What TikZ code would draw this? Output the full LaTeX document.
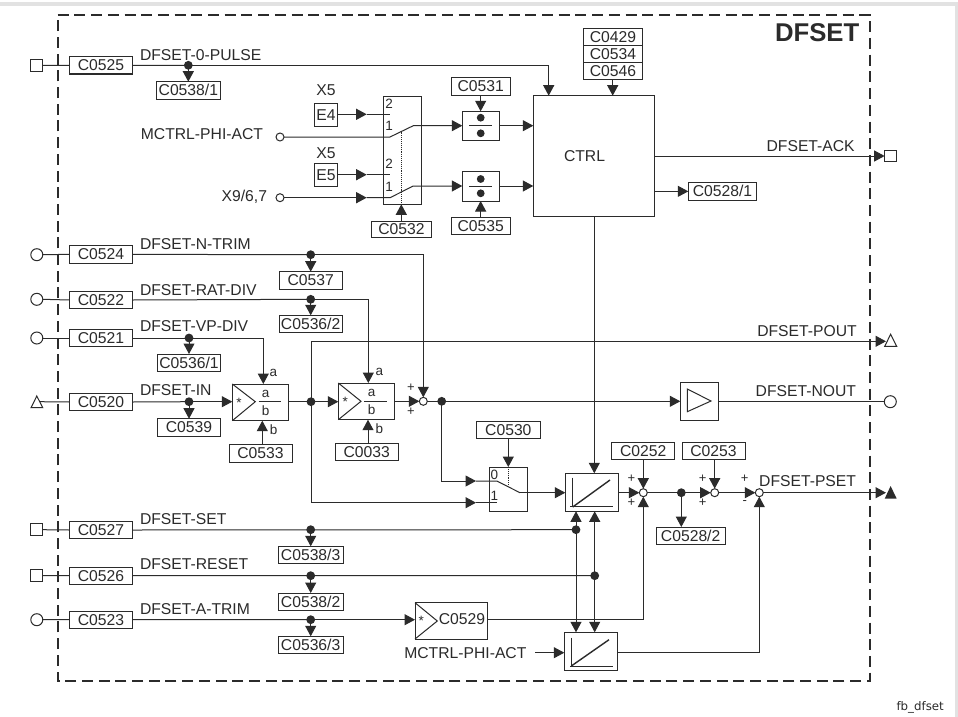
\documentclass[tikz,border=0pt]{standalone}
\usepackage{fontspec}
\setmainfont{Liberation Sans}
\newfontfamily\fbfont{DejaVu Sans}
\usetikzlibrary{arrows.meta}
\definecolor{ink}{HTML}{2B2B2B}
\definecolor{band}{HTML}{E2E2E2}
\tikzset{
  wire/.style={draw=ink,line width=1pt},
  arw/.style={wire,-{Triangle[length=10.5pt,width=11pt]}},
  cbox/.style={draw=ink,line width=1pt,fill=white,inner sep=0pt,outer sep=0pt,font=\fontsize{15.7}{16}\selectfont,text=ink},
  blockbox/.style={draw=ink,line width=1pt,fill=white,inner sep=0pt,outer sep=0pt},
  lbl/.style={inner sep=0pt,outer sep=0pt,font=\fontsize{15.7}{16}\selectfont,text=ink},
  small/.style={inner sep=0pt,outer sep=0pt,font=\fontsize{13.5}{14}\selectfont,text=ink},
  pm/.style={inner sep=0pt,outer sep=0pt,font=\fontsize{13}{13}\selectfont,text=ink},
  jdot/.style={circle,fill=ink,draw=none,minimum size=8.8pt,inner sep=0pt,outer sep=0pt},
  sumn/.style={circle,fill=white,draw=ink,line width=1pt,minimum size=8pt,inner sep=0pt,outer sep=0pt},
  tcirc/.style={circle,fill=white,draw=ink,line width=1pt,minimum size=12pt,inner sep=0pt,outer sep=0pt},
  tsq/.style={rectangle,fill=white,draw=ink,line width=1pt,minimum size=11.7pt,inner sep=0pt,outer sep=0pt},
  fbframe/.style={draw=ink,line width=1.7pt,dash pattern=on 11pt off 5.7pt},
  dots/.style={draw=ink,line width=.9pt,densely dotted},
}
\newcommand\cb[6]{\node[cbox,minimum width=#4pt-#2pt,minimum height=#5pt-#3pt] (#1) at ({(#2+#4)/2},{(#3+#5)/2}) {#6};}
\newcommand\bb[5]{\node[blockbox,minimum width=#4pt-#2pt,minimum height=#5pt-#3pt] (#1) at ({(#2+#4)/2},{(#3+#5)/2}) {};}
\begin{document}
\begin{tikzpicture}[x=1pt,y=-1pt]
\useasboundingbox (0,0) rectangle (958,717);
\fill[white] (0,0) rectangle (958,717);
\fill[band] (0,2) rectangle (958,6);
\fill[band] (954.7,2) rectangle (958,717);
% frame
\draw[fbframe] (57.7,15) -- (869.7,15) -- (869.7,680.7) -- (57.7,680.7) -- cycle;
\node[inner sep=0pt,font=\bfseries\fontsize{25.7}{26}\selectfont,text=ink,anchor=base east] (title) at (859.5,41.5) {DFSET};

% input terminals
\node[tsq] (t0) at (36.8,65.3) {};
\node[tcirc] (t4) at (36.8,254.7) {};
\node[tcirc] (t2) at (36.8,299.3) {};
\node[tcirc] (t1) at (36.8,338) {};
\draw[draw=ink,line width=1pt,fill=white] (31,407.7) -- (36.8,396) -- (42.7,407.7) -- cycle;
\coordinate (t20) at (40,401.7);
\node[tsq] (t7) at (36.8,529.7) {};
\node[tsq] (t6) at (36.8,575.7) {};
\node[tcirc] (t3) at (36.8,619.7) {};

% code boxes, left column
\cb{c525}{69.3}{56.7}{132.7}{74}{C0525}
\cb{c524}{69.3}{245.7}{132.7}{263}{C0524}
\cb{c522}{69.3}{291.3}{132.7}{308.7}{C0522}
\cb{c521}{69.3}{329.3}{132.7}{346.7}{C0521}
\cb{c520}{69.3}{393.3}{132.7}{410.7}{C0520}
\cb{c527}{69.3}{521.3}{132.7}{538.7}{C0527}
\cb{c526}{69.3}{567}{132.7}{584.3}{C0526}
\cb{c523}{69.3}{611}{132.7}{628.3}{C0523}
\foreach \a/\b in {t0/c525,t4/c524,t2/c522,t1/c521,t7/c527,t6/c526,t3/c523}{\draw[wire] (\a.east) -- (\b.west);}
\draw[wire] (t20) -- (c520.west);

% signal names
\node[lbl,anchor=base west] (n0) at (140,60) {DFSET-0-PULSE};
\node[lbl,anchor=base west] (n4) at (140,249) {DFSET-N-TRIM};
\node[lbl,anchor=base west] (n2) at (140,295) {DFSET-RAT-DIV};
\node[lbl,anchor=base west] (n1) at (140,331) {DFSET-VP-DIV};
\node[lbl,anchor=base west] (n20) at (140,395) {DFSET-IN};
\node[lbl,anchor=base west] (n7) at (140,524.3) {DFSET-SET};
\node[lbl,anchor=base west] (n6) at (140,569.7) {DFSET-RESET};
\node[lbl,anchor=base west] (n3) at (140,614) {DFSET-A-TRIM};

% monitoring boxes
\cb{c538a}{156.7}{81.7}{220}{99}{C0538/1}
\cb{c537}{279}{271.7}{342.3}{289}{C0537}
\cb{c536b}{279}{315.3}{342.3}{332.7}{C0536/2}
\cb{c536a}{157.3}{354}{220.7}{371.3}{C0536/1}
\cb{c539}{157.3}{418.7}{220.7}{436}{C0539}
\cb{c538c}{278.3}{546.3}{343}{563.7}{C0538/3}
\cb{c538b}{278.3}{593}{343}{610.3}{C0538/2}
\cb{c536c}{278.3}{636.3}{343}{653.7}{C0536/3}
\node[jdot] (d0) at (188.3,65.3) {};
\node[jdot] (d4) at (310.7,254.7) {};
\node[jdot] (d2) at (310.7,299.3) {};
\node[jdot] (d1) at (189,338) {};
\node[jdot] (d20) at (189,401.7) {};
\node[jdot] (d7) at (310.7,529.7) {};
\node[jdot] (d6) at (310.7,575.7) {};
\node[jdot] (d3) at (310.7,619.7) {};
\foreach \a/\b in {d0/c538a,d4/c537,d2/c536b,d1/c536a,d20/c539,d7/c538c,d6/c538b,d3/c536c}{\draw[arw] (\a.center) -- (\a.center |- \b.north);}

% X5 inputs and selector
\node[lbl,anchor=base] (x5a) at (326,95.7) {X5};
\node[lbl,anchor=base] (x5b) at (326,158.3) {X5};
\cb{e4}{314.7}{103.3}{337.3}{126}{E4}
\cb{e5}{314.7}{163.3}{337.3}{186.7}{E5}
\node[lbl,anchor=base east] (nm) at (263,139) {MCTRL-PHI-ACT};
\node[lbl,anchor=base east] (nx) at (267,201) {X9/6,7};
\node[sumn] (im) at (280,137) {};
\node[sumn] (ix) at (280,197.7) {};
\bb{sel}{383.3}{96.7}{421.3}{204.3}
\node[small] (s2a) at (389,104) {2};
\node[small] (s1a) at (389,126) {1};
\node[small] (s2b) at (389,164) {2};
\node[small] (s1b) at (389,187) {1};
\bb{diva}{462.3}{111.3}{499}{140.3}
\bb{divb}{462.3}{171.7}{499}{201}
\cb{c531}{451}{77.7}{510.3}{95}{C0531}
\cb{c535}{451}{217.3}{510.3}{234.7}{C0535}
\cb{c532}{371.7}{221}{431.3}{237.7}{C0532}
\foreach \n/\y in {diva/117.7,diva/133.3,divb/179,divb/193.3}{\fill[ink] (480.7,\y) circle (3.9pt);}
\draw[wire] (469.3,125.7) -- (492,125.7);
\draw[wire] (469.3,186) -- (492,186);
\draw[arw] (c531.south) -- (diva.north -| c531.south);
\draw[arw] (c535.north) -- (divb.south -| c535.north);
\coordinate (e4m) at (366.7,114.3);
\coordinate (e4e) at (390,114.3);
\coordinate (e5m) at (366.7,174.7);
\coordinate (e5e) at (390,174.7);
\draw[arw] (e4.east |- e4m) -- (e4m);
\draw[wire] (e4m) -- (e4e);
\draw[arw] (e5.east |- e5m) -- (e5m);
\draw[wire] (e5m) -- (e5e);
\coordinate (ma) at (390,137);
\coordinate (mb) at (413.3,125.7);
\coordinate (xm) at (366.7,197.7);
\coordinate (xa) at (390,197.7);
\coordinate (xb) at (413.3,186);
\draw[arw] (im.east) -- (ma) -- (mb) -- (diva.west |- mb);
\draw[arw] (ix.east) -- (xm);
\draw[arw] (xm) -- (xa) -- (xb) -- (divb.west |- xb);
\coordinate (dota) at (401.3,131.5);
\draw[dots] (dota) -- (dota |- sel.south);
\draw[arw] (dota |- c532.north) -- (dota |- sel.south);

% CTRL
\node[blockbox,minimum width=121.4pt,minimum height=121pt,font=\fontsize{15.7}{16}\selectfont,text=ink,text depth=0pt] (ctrl) at (594,156.2) {\hspace{-19pt}CTRL};
\cb{c429}{583.3}{28.7}{642.7}{46}{C0429}
\cb{c534}{583.3}{46}{642.7}{62.7}{C0534}
\cb{c546}{583.3}{62.7}{642.7}{79.3}{C0546}
\coordinate (stk) at (612.7,79.3);
\draw[arw] (stk) -- (stk |- ctrl.north);
\coordinate (pulse) at (548.7,65.3);
\draw[wire] (c525.east) -- (d0.center);
\draw[arw] (d0.center) -- (pulse) -- (pulse |- ctrl.north);
\draw[arw] (diva.east |- 0,125.7) -- (ctrl.west |- 0,125.7);
\draw[arw] (divb.east |- 0,186) -- (ctrl.west |- 0,186);
\node[tsq] (tack) at (890.5,156) {};
\draw[arw] (ctrl.east |- tack) -- (tack.west);
\node[lbl,anchor=base east] (nack) at (854.7,151.7) {DFSET-ACK};
\cb{c528a}{688.3}{182.7}{756.7}{200}{C0528/1}
\draw[arw] (ctrl.east |- c528a) -- (c528a.west);

% multipliers
\bb{mula}{232.3}{384}{288.3}{420.7}
\bb{mulb}{338.3}{383}{394.3}{419.7}
\draw[draw=ink,line width=1pt] (232.3,384) -- (255.3,401.7) -- (232.3,420.7);
\draw[draw=ink,line width=1pt] (338.3,383) -- (361,401.3) -- (338.3,419.7);
\node[small] (sa) at (239,402.5) {*};
\node[small] (sb) at (345.3,402) {*};
\draw[wire] (258.7,401.7) -- (281,401.7);
\draw[wire] (364.3,401.3) -- (387,401.3);
\node[small] (aa) at (265.7,394) {a};
\node[small] (ab) at (265.7,410.7) {b};
\node[small] (ba) at (371.7,393) {a};
\node[small] (bb) at (371.7,409.7) {b};
\node[small] (oa) at (273.3,372.7) {a};
\node[small] (ob) at (273.7,430) {b};
\node[small] (pa) at (379.3,372) {a};
\node[small] (pb) at (379.3,429) {b};
\cb{c533}{229}{444.7}{292}{462}{C0533}
\cb{c033}{335}{443.3}{398.3}{460.7}{C0033}
\coordinate (xb1) at (262.3,444.7);
\coordinate (xb2) at (368,443.3);
\draw[arw] (xb1) -- (xb1 |- mula.south);
\draw[arw] (xb2) -- (xb2 |- mulb.south);
\coordinate (vpc) at (263.3,338);
\draw[wire] (c521.east) -- (d1.center);
\draw[arw] (d1.center) -- (vpc) -- (vpc |- mula.north);
\coordinate (ratc) at (368.3,299.3);
\draw[wire] (c522.east) -- (d2.center);
\draw[arw] (d2.center) -- (ratc) -- (ratc |- mulb.north);
\node[sumn] (s0) at (423.3,401.3) {};
\coordinate (ntc) at (423.3,254.7);
\draw[wire] (c524.east) -- (d4.center);
\draw[arw] (d4.center) -- (ntc) -- (s0.north);
\draw[wire] (c520.east) -- (d20.center);
\draw[arw] (d20.center) -- (mula.west |- d20);
\node[jdot] (d5) at (311,401.7) {};
\draw[wire] (mula.east |- d5) -- (d5.center);
\draw[arw] (d5.center) -- (mulb.west |- d5);
\draw[arw] (mulb.east |- s0) -- (s0.west);
\node[pm] (p1) at (411,388) {+};
\node[pm] (p2) at (411,412) {+};
\node[jdot] (d8) at (441.7,401.3) {};
\draw[wire] (s0.east) -- (d8.center);

% POUT
\draw[draw=ink,line width=1pt,fill=white] (884.7,346.3) -- (890.6,334.3) -- (896.7,346.3) -- cycle;
\coordinate (po1) at (311,341.3);
\coordinate (po2) at (886,341.3);
\draw[arw] (d5.center) -- (po1) -- (po2);
\node[lbl,anchor=base east] (npo) at (856.7,336) {DFSET-POUT};

% NOUT
\bb{amp}{680.3}{382}{718.7}{420}
\draw[draw=ink,line width=1pt] (687.3,389) -- (711,401) -- (687.3,411.7) -- cycle;
\draw[arw] (d8.center) -- (amp.west |- d8);
\node[tcirc] (tn) at (890.3,401.7) {};
\draw[wire] (amp.east |- tn) -- (tn.west);
\node[lbl,anchor=base east] (nno) at (856,396) {DFSET-NOUT};

% selector 0/1
\bb{sw}{489.3}{467}{527.3}{511.7}
\node[small] (s0n) at (494.3,474.7) {0};
\node[small] (s1n) at (494.3,496.3) {1};
\cb{c530}{476.7}{421}{540}{438.3}{C0530}
\coordinate (swc) at (508.3,467);
\draw[arw] (swc |- c530.south) -- (swc);
\draw[dots] (swc) -- (508.3,485);
\coordinate (sw0) at (476,481);
\coordinate (sw1) at (476,502.7);
\coordinate (swp) at (496.7,481);
\coordinate (swq) at (520,492.7);
\coordinate (swr) at (496.7,502.7);
\draw[arw] (d8.center) |- (sw0);
\draw[arw] (d5.center) |- (sw1);
\draw[wire] (sw1) -- (swr);

% ramps
\bb{rmpa}{565.3}{473.3}{618.3}{511.3}
\bb{rmpb}{564.3}{632.3}{617.7}{670}
\draw[wire] (sw0) -- (swp) -- (swq);
\draw[arw] (swq) -- (rmpa.west |- swq);
\draw[wire] (572.7,477.7) -- (572.7,507) (570,506.7) -- (612.7,506.7);
\draw[wire,line width=1.4pt] (572.7,507) -- (610,480);
\draw[wire] (571.3,637.7) -- (571.3,666.3) (570,666) -- (613,666);
\draw[wire,line width=1.4pt] (571.3,666) -- (609,639.7);
\coordinate (ctl) at (594.3,216.7);
\draw[arw] (ctl) -- (ctl |- rmpa.north);

% summing points
\node[sumn] (s1) at (643.3,492.7) {};
\node[sumn] (s2) at (714.7,492.7) {};
\node[sumn] (s3) at (759.3,492.7) {};
\cb{c252}{611.7}{442.3}{674.7}{459.7}{C0252}
\cb{c253}{682}{442.3}{745}{459.7}{C0253}
\draw[arw] (s1 |- c252.south) -- (s1.north);
\draw[arw] (s2 |- c253.south) -- (s2.north);
\draw[arw] (rmpa.east |- s1) -- (s1.west);
\node[jdot] (d9) at (681.3,492.7) {};
\draw[wire] (s1.east) -- (d9.center);
\draw[arw] (d9.center) -- (s2.west);
\draw[arw] (s2.east) -- (s3.west);
\cb{c528b}{656}{527}{725.3}{544.7}{C0528/2}
\draw[arw] (d9.center) -- (d9 |- c528b.north);
\node[pm] (p3) at (631.3,478.3) {+};
\node[pm] (p4) at (631.3,502.3) {+};
\node[pm] (p5) at (702.7,478.3) {+};
\node[pm] (p6) at (702.7,502.3) {+};
\node[pm] (p7) at (744.7,478.3) {+};
\node[pm] (p8) at (744.7,502.3) {-};
\node[lbl,anchor=base east] (npset) at (856,486) {DFSET-PSET};
\fill[ink] (884.7,498.7) -- (890.6,486) -- (896.7,498.7) -- cycle;
\coordinate (tpset) at (886,492.7);
\draw[arw] (s3.east) -- (tpset);

% set / reset
\node[jdot] (ds) at (576,529.7) {};
\node[jdot] (dr) at (594.7,575.7) {};
\draw[wire] (c527.east) -- (ds.center);
\draw[wire] (c526.east) -- (dr.center);
\draw[arw] (ds.center) -- (ds |- rmpa.south);
\draw[arw] (ds.center) -- (ds |- rmpb.north);
\draw[arw] (dr.center) -- (dr |- rmpa.south);
\draw[arw] (dr.center) -- (dr |- rmpb.north);

% A-trim
\bb{atr}{415}{602.7}{487.3}{639}
\draw[draw=ink,line width=1pt] (415,602.7) -- (437.3,621) -- (415,639);
\node[small] (sc) at (421.3,621) {*};
\node[lbl] (n529) at (462,618.7) {C0529};
\draw[wire] (c523.east) -- (d3.center);
\draw[arw] (d3.center) -- (atr.west |- d3);
\coordinate (atc) at (643.3,619);
\draw[arw] (atr.east |- atc) -- (atc) -- (s1.south);
\node[lbl,anchor=base west] (nm2) at (404.3,658.7) {MCTRL-PHI-ACT};
\coordinate (m2) at (535,652.7);
\draw[arw] (m2) -- (rmpb.west |- m2);
\coordinate (psc) at (759.3,652);
\draw[arw] (rmpb.east |- psc) -- (psc) -- (s3.south);

\node[inner sep=0pt,font=\fbfont\fontsize{11.8}{12}\selectfont,text=ink,anchor=base east] (fb) at (944,710.3) {fb\_dfset};
\end{tikzpicture}
\end{document}
